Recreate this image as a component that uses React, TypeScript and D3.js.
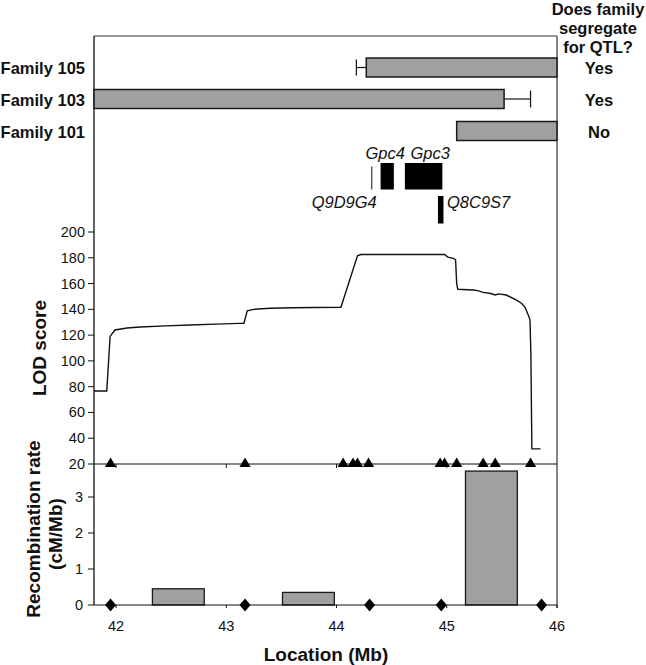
import React from "react";
import * as d3 from "d3";

// ---------- data ----------
const xTicks = [42, 43, 44, 45, 46];
const lodTicks = [20, 40, 60, 80, 100, 120, 140, 160, 180, 200];
const recTicks = [0, 1, 2, 3];

const families = ["Family 105", "Family 103", "Family 101"];
const famStart = [44.27, 41.8, 45.09];
const famEnd = [46.0, 45.52, 46.0];
const famErrLeft = [44.18, null, null];
const famErrRight = [null, 45.76, null];
const famSegregates = ["Yes", "Yes", "No"];

const geneNames = ["Q9D9G4", "Gpc4", "Gpc3", "Q8C9S7"];
const geneStart = [44.32, 44.40, 44.62, 44.92];
const geneEnd = [44.32, 44.52, 44.96, 44.97];
const geneRow = [0, 0, 0, 1];

const lodPos = [41.8, 41.916, 41.946, 41.99, 42.1, 42.22, 42.45, 42.67, 42.9, 43.12, 43.16, 43.19, 43.25, 43.4, 43.6, 43.8, 44.04, 44.19, 44.22, 44.6, 44.98, 45.01, 45.06, 45.08, 45.09, 45.1, 45.24, 45.28, 45.33, 45.4, 45.44, 45.47, 45.54, 45.63, 45.68, 45.71, 45.74, 45.755, 45.763, 45.772, 45.85];
const lodVal = [76.6, 76.6, 119, 124, 125.5, 126.3, 127.2, 127.8, 128.5, 129.1, 129.2, 138.8, 140.0, 140.8, 141.2, 141.4, 141.6, 181.5, 182.5, 182.6, 182.5, 180.5, 179.6, 178.4, 160, 155.6, 155, 154.5, 153.2, 152.3, 151.2, 152, 151.1, 147.3, 144.5, 141.6, 135.5, 131.7, 106, 31.7, 31.7];

const lodMarkers = [41.95, 43.17, 44.06, 44.15, 44.19, 44.29, 44.94, 44.98, 45.09, 45.33, 45.44, 45.76];
const recMarkers = [41.95, 43.17, 44.3, 44.95, 45.86];

const recStart = [42.33, 43.51, 45.17];
const recEnd = [42.8, 43.98, 45.64];
const recRate = [0.45, 0.35, 3.72];

// ---------- layout ----------
const W = 646;
const H = 665;
const FONT = "'Liberation Sans', Arial, Helvetica, sans-serif";
const left = 94;
const right = 557;
const frameTop = 36;

const triPath = "M0,-6.5L5.6,3L-5.6,3Z";
const diaPath = "M0,-6.5L5.5,0L0,6.5L-5.5,0Z";

export default function App() {
  const x = d3.scaleLinear().domain([41.8, 46]).range([left, right]);
  const yLod = d3.scaleLinear().domain([20, 200]).range([464, 232]);
  const yRec = d3.scaleLinear().domain([0, 3]).range([605, 497]);

  const famBandY = [58, 89.5, 121.5];
  const famBandH = 19;

  const lodLine = d3
    .line<number>()
    .x((_, i) => x(lodPos[i]))
    .y((d) => yLod(d))
    .curve(d3.curveLinear)(lodVal) as string;

  const geneRowTop = [163, 196];
  const geneRowH = [26.5, 27.5];

  return (
    <svg width={W} height={H} style={{ position: "absolute", left: 0, top: 0, background: "#fff" }} fontFamily={FONT}>
      <rect x={0} y={0} width={W} height={H} fill="#fff" />

      {/* frame */}
      <line x1={left} x2={right} y1={frameTop} y2={frameTop} stroke="#333" strokeWidth={1.2} />
      <line x1={left} x2={left} y1={frameTop} y2={605} stroke="#111" strokeWidth={1.3} />
      <line x1={right} x2={right} y1={frameTop} y2={608} stroke="#333" strokeWidth={1.2} />

      {/* right-hand header */}
      <g fontWeight="bold" fontSize={16.5} textAnchor="middle" fill="#111">
        <text x={598} y={14.5}>Does family</text>
        <text x={598} y={33.5}>segregate</text>
        <text x={598} y={52.5}>for QTL?</text>
      </g>

      {/* family bars */}
      {families.map((f, i) => {
        const y0 = famBandY[i];
        const cy = y0 + famBandH / 2;
        const el = famErrLeft[i];
        const er = famErrRight[i];
        return (
          <g key={f}>
            <text x={85} y={cy + 6.5} textAnchor="end" fontWeight="bold" fontSize={16.5} fill="#111">
              {f}
            </text>
            <text x={599} y={cy + 6.5} textAnchor="middle" fontWeight="bold" fontSize={16.5} fill="#111">
              {famSegregates[i]}
            </text>
            {el != null && (
              <g stroke="#111" strokeWidth={1.2}>
                <line x1={x(el)} x2={x(famStart[i])} y1={cy} y2={cy} />
                <line x1={x(el)} x2={x(el)} y1={cy - 8} y2={cy + 8} />
              </g>
            )}
            {er != null && (
              <g stroke="#111" strokeWidth={1.2}>
                <line x1={x(famEnd[i])} x2={x(er)} y1={cy} y2={cy} />
                <line x1={x(er)} x2={x(er)} y1={cy - 8.5} y2={cy + 8.5} />
              </g>
            )}
            <rect
              x={x(famStart[i])}
              y={y0}
              width={x(famEnd[i]) - x(famStart[i])}
              height={famBandH}
              fill="#a0a0a0"
              stroke="#1a1a1a"
              strokeWidth={1.5}
            />
          </g>
        );
      })}

      {/* genes */}
      {geneNames.map((g, i) => {
        const r = geneRow[i];
        const x0 = x(geneStart[i]);
        const x1 = x(geneEnd[i]);
        const top = geneRowTop[r] + (g === "Q9D9G4" ? 3.5 : 0);
        const h = geneRowTop[r] + geneRowH[r] - top;
        return x1 - x0 < 1 ? (
          <line key={g} x1={x0} x2={x0} y1={top} y2={top + h} stroke="#111" strokeWidth={1} />
        ) : (
          <rect key={g} x={x0} y={top} width={x1 - x0} height={h} fill="#000" />
        );
      })}
      <g fontStyle="italic" fontSize={16.5} fill="#111">
        <text x={(x(geneStart[1]) + x(geneEnd[1])) / 2 - 2} y={159} textAnchor="middle">{geneNames[1]}</text>
        <text x={(x(geneStart[2]) + x(geneEnd[2])) / 2 + 6.5} y={159} textAnchor="middle">{geneNames[2]}</text>
        <text x={x(geneStart[0]) + 5} y={208} textAnchor="end">{geneNames[0]}</text>
        <text x={x(geneEnd[3]) + 3.5} y={208} textAnchor="start">{geneNames[3]}</text>
      </g>

      {/* LOD axis */}
      <g fontSize={14.5} fill="#111" textAnchor="end">
        {lodTicks.map((t) => (
          <g key={t}>
            <line x1={left - 6} x2={left} y1={yLod(t)} y2={yLod(t)} stroke="#111" strokeWidth={1} />
            <text x={left - 9} y={yLod(t) + 5}>{t}</text>
          </g>
        ))}
      </g>
      <line x1={left} x2={right} y1={yLod(20)} y2={yLod(20)} stroke="#111" strokeWidth={1.2} />
      {xTicks.slice(0, 4).map((t) => (
        <line key={t} x1={x(t)} x2={x(t)} y1={yLod(20)} y2={yLod(20) + 4} stroke="#111" strokeWidth={1} />
      ))}
      <text
        transform={`translate(46,348) rotate(-90)`}
        textAnchor="middle"
        fontWeight="bold"
        fontSize={19}
        fill="#111"
      >
        LOD score
      </text>

      {/* LOD curve */}
      <path d={lodLine} fill="none" stroke="#111" strokeWidth={1.4} />
      {lodMarkers.map((m, i) => (
        <path key={i} d={triPath} transform={`translate(${x(m)},${yLod(20)})`} fill="#000" />
      ))}

      {/* recombination panel */}
      {recStart.map((s, i) => (
        <rect
          key={i}
          x={x(s)}
          y={yRec(recRate[i])}
          width={x(recEnd[i]) - x(s)}
          height={yRec(0) - yRec(recRate[i])}
          fill="#a0a0a0"
          stroke="#1a1a1a"
          strokeWidth={1.3}
        />
      ))}
      <g fontSize={14.5} fill="#111" textAnchor="end">
        {recTicks.map((t) => (
          <g key={t}>
            <line x1={left - 6} x2={left} y1={yRec(t)} y2={yRec(t)} stroke="#111" strokeWidth={1} />
            <text x={left - 11} y={yRec(t) + 5}>{t}</text>
          </g>
        ))}
      </g>
      <line x1={left} x2={right} y1={yRec(0)} y2={yRec(0)} stroke="#111" strokeWidth={1.2} />
      <g fontSize={14.5} fill="#111" textAnchor="middle">
        {xTicks.map((t) => (
          <g key={t}>
            <line x1={x(t)} x2={x(t)} y1={yRec(0)} y2={yRec(0) + 3} stroke="#111" strokeWidth={1} />
            <text x={x(t)} y={631}>{t}</text>
          </g>
        ))}
      </g>
      {recMarkers.map((m, i) => (
        <path key={i} d={diaPath} transform={`translate(${x(m)},${yRec(0)})`} fill="#000" />
      ))}
      <g fontWeight="bold" fontSize={19} fill="#111" textAnchor="middle">
        <text transform={`translate(40,529) rotate(-90)`}>Recombination rate</text>
        <text transform={`translate(62,534) rotate(-90)`}>(cM/Mb)</text>
        <text x={326} y={661}>Location (Mb)</text>
      </g>
    </svg>
  );
}
